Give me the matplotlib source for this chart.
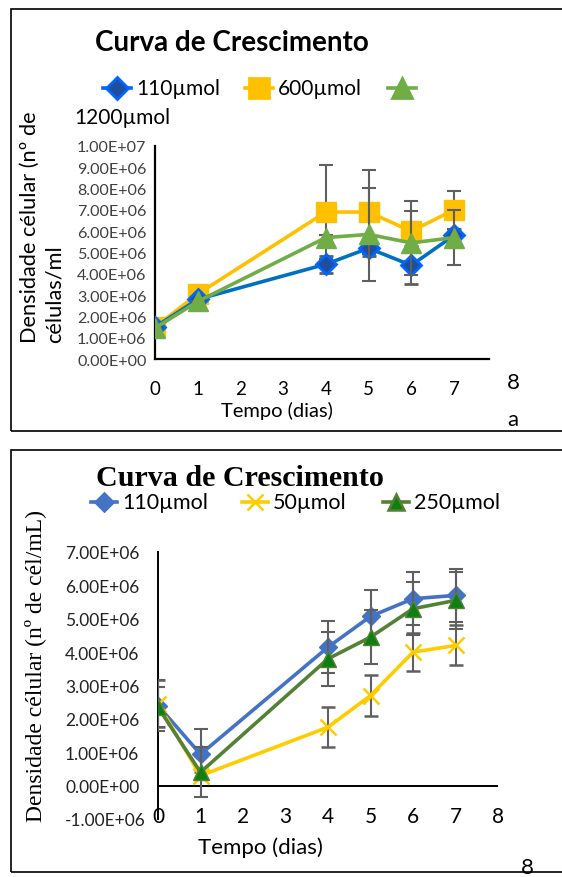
import matplotlib
matplotlib.use('Agg')
import matplotlib.pyplot as plt
from matplotlib.patches import Rectangle
from matplotlib.lines import Line2D

# --- painel superior (a) ---
dias_a = [0, 1, 4, 5, 6, 7]
s110_a = [1.5e6, 2.8e6, 4.45e6, 5.2e6, 4.4e6, 5.8e6]
s600_a = [1.5e6, 3.05e6, 6.9e6, 6.9e6, 6.0e6, 7.0e6]
s1200_a = [1.45e6, 2.7e6, 5.7e6, 5.85e6, 5.45e6, 5.7e6]
err110_a = [0, 0, 0.4e6, 0.35e6, 0.9e6, 0.3e6]
err600_a = [0, 0, 2.2e6, 1.95e6, 1.4e6, 0.9e6]
err1200_a = [0, 0, 0.1e6, 2.2e6, 1.5e6, 1.3e6]
yticks_a = [i * 1e6 for i in range(11)]

# --- painel inferior ---
dias_b = [0, 1, 4, 5, 6, 7]
s110_b = [2.4e6, 0.94e6, 4.15e6, 5.07e6, 5.6e6, 5.7e6]
s50_b = [2.45e6, 0.3e6, 1.75e6, 2.7e6, 4.0e6, 4.2e6]
s250_b = [2.35e6, 0.4e6, 3.8e6, 4.45e6, 5.3e6, 5.55e6]
err110_b = [0.75e6, 0.75e6, 0.77e6, 0.8e6, 0.8e6, 0.8e6]
err50_b = [0.7e6, 0.1e6, 0.6e6, 0.6e6, 0.58e6, 0.6e6]
err250_b = [0.6e6, 0.75e6, 0.8e6, 0.8e6, 0.8e6, 0.85e6]
yticks_b = [i * 1e6 for i in range(-1, 8)]

W, H = 562, 878
fig = plt.figure(figsize=(W / 100, H / 100), dpi=100)
sans = ['Lato', 'DejaVu Sans']
serif = ['Liberation Serif', 'DejaVu Serif']


def px_axes(l, t, r, b):
    return fig.add_axes([l / W, 1 - b / H, (r - l) / W, (b - t) / H])


def fmt(v):
    return '%.2E' % v


# moldura dos dois quadros
for top, bot in [(10, 432), (451, 873)]:
    fig.patches.append(Rectangle((11 / W, 1 - bot / H), 600 / W, (bot - top) / H,
                                 transform=fig.transFigure, fill=False,
                                 edgecolor='black', lw=1.2))

ecol = '#5f5f5f'

# ===== painel superior =====
ax = px_axes(155, 147, 489, 360)
ax.errorbar(dias_a, s600_a, yerr=err600_a, color='#FFC000', lw=2.6, marker='s', ms=14,
            ecolor=ecol, elinewidth=1.5, capsize=5, capthick=1.5, zorder=3)
ax.errorbar(dias_a, s110_a, yerr=err110_a, color='#0070C0', lw=2.6, marker='D', ms=10.5,
            mfc='#1F4E9F', mec='#0066FF', mew=2, ecolor=ecol, elinewidth=1.5,
            capsize=5, capthick=1.5, zorder=3)
ax.errorbar(dias_a, s1200_a, yerr=err1200_a, color='#70AD47', lw=2.6, marker='^', ms=15,
            ecolor=ecol, elinewidth=1.5, capsize=5, capthick=1.5, zorder=4)
ax.set_xlim(0, 7.82)
ax.set_ylim(0, 1e7)
ax.set_xticks(range(8))
ax.set_yticks(yticks_a)
ax.set_yticklabels([fmt(v) for v in yticks_a], family=sans, fontsize=11.6, color='#404040')
for lab in ax.get_yticklabels():
    lab.set_ha('left')
ax.tick_params(axis='y', length=0, pad=(155 - 77) * 0.72)
ax.tick_params(axis='x', length=0, pad=15, labelsize=13.5)
for lab in ax.get_xticklabels():
    lab.set_family(sans)
for s in ['top', 'right']:
    ax.spines[s].set_visible(False)
for s in ['left', 'bottom']:
    ax.spines[s].set_linewidth(1.6)
ax.set_xlabel('Tempo (dias)', family=sans, fontsize=14.5, labelpad=0, va='center')
ax.xaxis.set_label_coords((277 - 155) / (489 - 155), -(411 - 360) / (360 - 147))

fig.text(232 / W, 1 - 43 / H, 'Curva de Crescimento', family=sans, fontweight='bold',
         fontsize=20, ha='center', va='center')
fig.text(42 / W, 1 - 343 / H, 'Densidade célular (nº de\ncélulas/ml', family=sans,
         fontsize=15.7, rotation=90, ha='center', va='bottom', multialignment='left',
         linespacing=1.3)

# legenda (a)
leg_a = [(117, 'D', '#1F4E9F', '#0066FF', 11, '110µmol'),
         (259, 's', '#FFC000', '#FFC000', 14, '600µmol'),
         (402, '^', '#70AD47', '#70AD47', 15, '')]
for x, m, fc, ec, ms, txt in leg_a:
    fig.add_artist(Line2D([(x - 14) / W, (x + 14) / W], [1 - 89 / H] * 2, color=ec, lw=2.6))
    fig.add_artist(Line2D([x / W], [1 - 89 / H], lw=0, marker=m, ms=ms, mfc=fc, mec=ec,
                          mew=2))
    if txt:
        fig.text((x + 19) / W, 1 - 89 / H, txt, family=sans, fontsize=15, va='center')
fig.text(74 / W, 1 - 118 / H, '1200µmol', family=sans, fontsize=15, va='center')
fig.text(513 / W, 1 - 383 / H, '8', family=sans, fontsize=16, ha='center', va='center')
fig.text(513 / W, 1 - 420 / H, 'a', family=sans, fontsize=16, ha='center', va='center')

# ===== painel inferior =====
bx = px_axes(158, 553, 498, 820)
bx.errorbar(dias_b, s110_b, yerr=err110_b, color='#4472C4', lw=2.6, marker='D', ms=9,
            ecolor=ecol, elinewidth=1.5, capsize=5, capthick=1.5, zorder=3)
bx.errorbar(dias_b, s50_b, yerr=err50_b, color='#FFCC00', lw=2.6, marker='x', ms=11, mew=1.8,
            ecolor=ecol, elinewidth=1.5, capsize=5, capthick=1.5, zorder=3)
bx.errorbar(dias_b, s250_b, yerr=err250_b, color='#548235', lw=2.6, marker='^', ms=11,
            mfc='#0F7F12', mec='#548235', ecolor=ecol, elinewidth=1.5, capsize=5,
            capthick=1.5, zorder=4)
bx.axhline(0, color='black', lw=1.4, zorder=2)
bx.set_xlim(0, 8)
bx.set_ylim(-1e6, 7e6)
bx.set_xticks(range(9))
bx.set_yticks(yticks_b)
bx.set_yticklabels([fmt(v) for v in yticks_b], family=sans, fontsize=12.5, color='#222222')
for lab in bx.get_yticklabels():
    lab.set_ha('left')
bx.tick_params(axis='y', length=0, pad=(158 - 65) * 0.72)
bx.tick_params(axis='x', length=0, pad=-9, labelsize=15)
for lab in bx.get_xticklabels():
    lab.set_family(sans)
for s in ['top', 'right', 'bottom']:
    bx.spines[s].set_visible(False)
bx.spines['left'].set_linewidth(1.4)
bx.set_xlabel('Tempo (dias)', family=sans, fontsize=16, va='center')
bx.xaxis.set_label_coords((260 - 158) / (498 - 158), -(848 - 820) / (820 - 553))

fig.text(240 / W, 1 - 479 / H, 'Curva de Crescimento', family=serif, fontweight='bold',
         fontsize=21.6, ha='center', va='center')
fig.text(35 / W, 1 - 666 / H, 'Densidade célular (nº de cél/mL)', family=serif,
         fontsize=17, rotation=90, ha='center', va='center')

leg_b = [(104, 'D', '#4472C4', '#4472C4', 9, '110µmol'),
         (255, 'x', '#FFCC00', '#FFCC00', 11, '50µmol'),
         (396, '^', '#0F7F12', '#548235', 11, '250µmol')]
for x, m, fc, ec, ms, txt in leg_b:
    fig.add_artist(Line2D([(x - 13) / W, (x + 13) / W], [1 - 503 / H] * 2, color=ec, lw=2.6))
    fig.add_artist(Line2D([x / W], [1 - 503 / H], color=ec, lw=0, marker=m, ms=ms,
                          mfc=fc, mec=ec, mew=1.8))
    fig.text((x + 18) / W, 1 - 503 / H, txt, family=sans, fontsize=15.5, va='center')
fig.text(527 / W, 1 - 868 / H, '8', family=sans, fontsize=16, ha='center', va='center')

fig.savefig('out.png', dpi=100)
